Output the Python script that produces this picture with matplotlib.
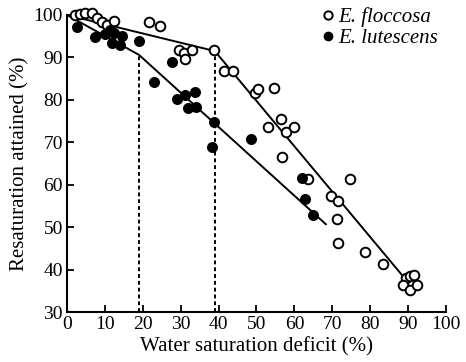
import matplotlib
matplotlib.use("Agg")
import matplotlib.pyplot as plt
from matplotlib.lines import Line2D

plt.rcParams['font.family'] = ['Liberation Serif', 'DejaVu Serif']

# E. floccosa (open circles)
flo_x = [2.2, 3.5, 4.8, 6.7, 7.9, 9.3, 10.6, 12.4, 21.7, 24.5, 29.6, 30.9, 31.1, 33.0,
         38.8, 41.4, 43.8, 49.6, 50.5, 54.6, 56.6, 53.0, 57.8, 59.9, 56.8, 63.5, 74.7,
         69.7, 71.6, 71.3, 71.4, 78.6, 83.5, 89.4, 90.5, 91.5, 88.6, 90.5, 92.4]
flo_y = [100.0, 100.3, 100.5, 100.5, 99.3, 98.3, 97.6, 98.5, 98.3, 97.4, 91.7, 91.0, 89.6, 91.7,
         91.7, 86.9, 86.9, 81.7, 82.5, 82.9, 75.5, 73.5, 72.5, 73.7, 66.6, 61.3, 61.3,
         57.4, 56.2, 52.0, 46.2, 44.2, 41.4, 38.1, 38.4, 38.7, 36.3, 35.3, 36.3]

# E. lutescens (filled circles)
lut_x = [2.6, 7.5, 10.1, 11.4, 12.5, 14.5, 11.8, 14.0, 19.0, 23.0, 27.6, 28.9, 31.1,
         33.8, 31.8, 34.0, 38.8, 38.3, 48.5, 61.9, 62.8, 65.0]
lut_y = [97.1, 94.8, 95.6, 96.5, 95.7, 95.1, 93.3, 93.0, 93.9, 84.1, 89.0, 80.2, 81.1,
         81.9, 78.1, 78.4, 74.7, 68.8, 70.8, 61.5, 56.6, 52.8]

# Fitted broken-line segments
flo_line_x = [0, 39, 90]
flo_line_y = [100, 91.5, 37.0]
lut_line_x = [0, 19, 68.3]
lut_line_y = [100, 90.6, 50.7]

# Breakpoints (dashed verticals)
break_x = [19, 39]
break_top = [90.6, 91.5]

xticks = list(range(0, 101, 10))
yticks = list(range(30, 101, 10))

fig = plt.figure(figsize=(4.66, 3.62), dpi=100)
ax = fig.add_axes([0.1438, 0.138, 0.8132, 0.8206])

ax.plot(flo_line_x, flo_line_y, color='black', lw=1.4, zorder=2)
ax.plot(lut_line_x, lut_line_y, color='black', lw=1.4, zorder=2)
for bx, bt in zip(break_x, break_top):
    ax.plot([bx, bx], [30, bt], color='black', lw=1.4, linestyle=(0, (2.0, 1.5)), zorder=1)

ax.scatter(flo_x, flo_y, s=48, facecolors='white', edgecolors='black', linewidths=1.4,
           zorder=3, clip_on=False)
ax.scatter(lut_x, lut_y, s=48, facecolors='black', edgecolors='black', linewidths=1.0,
           zorder=4, clip_on=False)

ax.set_xlim(0, 100)
ax.set_ylim(30, 100)
ax.set_xticks(xticks)
ax.set_yticks(yticks)
ax.spines['top'].set_visible(False)
ax.spines['right'].set_visible(False)
for s in ['left', 'bottom']:
    ax.spines[s].set_linewidth(1.5)
ax.tick_params(direction='in', length=5, width=1.3, labelsize=14, pad=3)
ax.set_xlabel('Water saturation deficit (%)', fontsize=15, labelpad=3)
ax.set_ylabel('Resaturation attained (%)', fontsize=15, labelpad=3)

handles = [
    Line2D([], [], marker='o', linestyle='none', markerfacecolor='white', markeredgecolor='black',
           markersize=6, markeredgewidth=1.4, label='E. floccosa'),
    Line2D([], [], marker='o', linestyle='none', markerfacecolor='black', markeredgecolor='black',
           markersize=6, label='E. lutescens'),
]
leg = ax.legend(handles=handles, loc='upper left', bbox_to_anchor=(0.675, 1.025), frameon=False,
                prop={'style': 'italic', 'size': 15}, handlelength=0.5, handletextpad=0.25,
                labelspacing=0.05, borderaxespad=0.0, borderpad=0.0)

fig.savefig('out.png', dpi=100)
